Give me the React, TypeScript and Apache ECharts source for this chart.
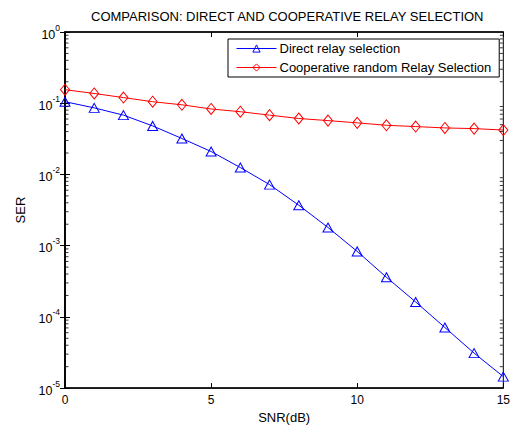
import React, { useEffect, useRef } from "react";
import * as echarts from "echarts";

const snr = [0, 1, 2, 3, 4, 5, 6, 7, 8, 9, 10, 11, 12, 13, 14, 15];
const directSER = [0.105, 0.086, 0.068, 0.048, 0.032, 0.021, 0.0125, 0.0072, 0.0037, 0.0018, 0.00083, 0.00036, 0.000162, 0.000071, 0.000031, 0.0000145];
const coopSER = [0.155, 0.137, 0.12, 0.105, 0.095, 0.083, 0.076, 0.068, 0.061, 0.057, 0.053, 0.049, 0.047, 0.045, 0.044, 0.042];
const seriesNames = ["Direct relay selection", "Cooperative random Relay Selection"];
const titleText = "COMPARISON: DIRECT AND COOPERATIVE RELAY SELECTION";
const xName = "SNR(dB)";
const yName = "SER";
const xMin = 0;
const xMax = 15;
const decadeExponents = [-5, -4, -3, -2, -1];
const minorMantissas = [2, 3, 4, 5, 6, 7, 8, 9];

const FONT = "Liberation Sans, Arial, sans-serif";

const minorValues: number[] = [];
decadeExponents.forEach((e) => minorMantissas.forEach((m) => minorValues.push(m * Math.pow(10, e))));

export default function App() {
  const ref = useRef<HTMLDivElement>(null);
  useEffect(() => {
    if (!ref.current) return;
    const chart = echarts.init(ref.current, null, { renderer: "svg" });
    const yBase = {
      type: "log" as const,
      logBase: 10,
      min: 0.00001,
      max: 1,
      splitLine: { show: false },
    };
    const labelRich = {
      b: { fontSize: 12.5, fontFamily: FONT, color: "#000", lineHeight: 18, verticalAlign: "bottom" },
      s: { fontSize: 8.5, fontFamily: FONT, color: "#000", lineHeight: 18, verticalAlign: "top" },
    };
    const tickSeries = (x: number, dx: number) => ({
      type: "scatter",
      silent: true,
      xAxisIndex: 0,
      yAxisIndex: 0,
      data: minorValues.map((v) => [x, v]),
      symbol: "rect",
      symbolSize: [3, 1],
      symbolOffset: [dx, 0],
      itemStyle: { color: "#000" },
      clip: false,
      z: 5,
    });
    chart.setOption({
      animation: false,
      backgroundColor: "#fff",
      title: {
        text: titleText,
        left: 86,
        top: 5,
        textStyle: { fontSize: 13, fontWeight: "normal", color: "#000", fontFamily: FONT },
      },
      legend: {
        orient: "vertical",
        left: 228,
        top: 39,
        backgroundColor: "#fff",
        borderColor: "#000",
        borderWidth: 1,
        padding: [3, 8, 3, 8],
        itemWidth: 40,
        itemHeight: 9,
        itemGap: 6,
        lineStyle: { width: 1 },
        itemStyle: { color: "rgba(255,255,255,0)", borderWidth: 1 },
        textStyle: { fontSize: 13, color: "#000", fontFamily: FONT, padding: [0, 0, 0, -2] },
        data: seriesNames,
      },
      grid: {
        left: 65,
        right: 6,
        top: 32,
        bottom: 37,
        show: true,
        borderColor: "#000",
        borderWidth: 1,
      },
      xAxis: [
        {
          type: "value",
          min: xMin,
          max: xMax,
          interval: 5,
          position: "bottom",
          name: xName,
          nameLocation: "middle",
          nameGap: 22,
          nameTextStyle: { fontSize: 13, color: "#000", fontFamily: FONT },
          axisLine: { show: true, lineStyle: { color: "#000", width: 1.5 } },
          axisTick: { show: true, inside: true, length: 5, lineStyle: { color: "#000", width: 1 } },
          axisLabel: { fontSize: 12, color: "#000", fontFamily: FONT, margin: 6 },
          splitLine: { show: false },
        },
        {
          type: "value",
          min: xMin,
          max: xMax,
          interval: 5,
          position: "top",
          axisLine: { show: true, lineStyle: { color: "#000", width: 1.5 } },
          axisTick: { show: true, inside: true, length: 5, lineStyle: { color: "#000", width: 1 } },
          axisLabel: { show: false },
          splitLine: { show: false },
        },
      ],
      yAxis: [
        {
          ...yBase,
          position: "left",
          name: yName,
          nameLocation: "middle",
          nameGap: 38,
          nameTextStyle: { fontSize: 13, color: "#000", fontFamily: FONT },
          axisLine: { show: true, lineStyle: { color: "#000", width: 1.5 } },
          axisTick: { show: true, inside: true, length: 5, lineStyle: { color: "#000", width: 1 } },
          axisLabel: {
            margin: 5,
            formatter: (v: number) => `{b|10}{s|${Math.round(Math.log10(v))}}`,
            rich: labelRich,
          },
        },
        {
          ...yBase,
          position: "right",
          axisLine: { show: true, lineStyle: { color: "#000", width: 1.5 } },
          axisTick: { show: true, inside: true, length: 5, lineStyle: { color: "#000", width: 1 } },
          axisLabel: { show: false },
        },
      ],
      series: [
        tickSeries(xMin, 2),
        tickSeries(xMax, -2),
        {
          name: seriesNames[0],
          type: "line",
          xAxisIndex: 0,
          yAxisIndex: 0,
          data: snr.map((x, i) => [x, directSER[i]]),
          symbol: "triangle",
          symbolSize: [10, 9],
          lineStyle: { color: "#0000ff", width: 1 },
          itemStyle: { color: "rgba(255,255,255,0)", borderColor: "#0000ff", borderWidth: 1 },
          color: "#0000ff",
          clip: false,
          z: 3,
        },
        {
          name: seriesNames[1],
          type: "line",
          xAxisIndex: 0,
          yAxisIndex: 0,
          data: snr.map((x, i) => [x, coopSER[i]]),
          symbol: "diamond",
          symbolSize: [9, 11],
          lineStyle: { color: "#ff0000", width: 1 },
          itemStyle: { color: "rgba(255,255,255,0)", borderColor: "#ff0000", borderWidth: 1 },
          color: "#ff0000",
          clip: false,
          z: 3,
        },
      ],
    });
    return () => chart.dispose();
  }, []);
  return <div ref={ref} style={{ width: 513, height: 429, position: "absolute", left: 0, top: 0 }} />;
}
